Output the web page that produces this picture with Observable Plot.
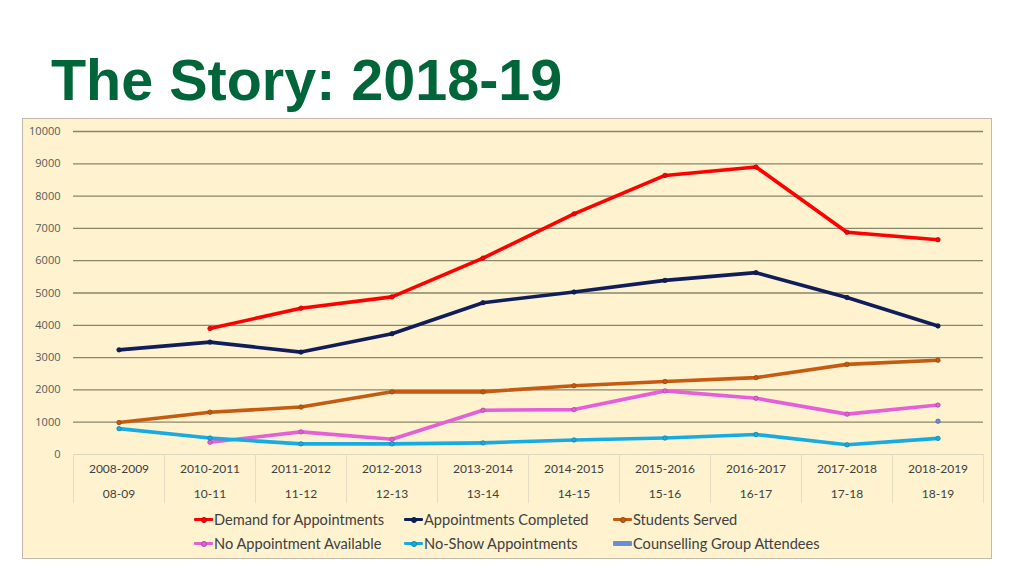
<!DOCTYPE html>
<html>
<head>
<meta charset="utf-8">
<script src="https://cdn.jsdelivr.net/npm/d3@7"></script>
<script src="https://cdn.jsdelivr.net/npm/@observablehq/plot@0.6"></script>
<style>
  html, body { margin: 0; padding: 0; background: #ffffff; width: 1024px; height: 576px; overflow: hidden; }
  #title { position: absolute; left: 51px; top: 47px; font-family: "Liberation Sans", Arial, sans-serif; font-weight: bold; font-size: 57.5px; color: #006639; white-space: nowrap; }
  #panel { position: absolute; left: 22px; top: 118px; width: 968px; height: 439px; background: #FEF2CF; border: 1px solid #C2BBAA; }
  #chart { position: absolute; left: 0; top: 0; }
  .legend-item { position: absolute; display: flex; align-items: center; font-family: Lato, "Open Sans", sans-serif; font-size: 14.6px; color: #404040; white-space: nowrap; height: 20px; }
  .sw { position: relative; width: 19px; height: 20px; margin-right: 1px; }
  .sw .ln { position: absolute; left: 0; top: 8.5px; width: 19px; height: 3px; border-radius: 1px; }
  .sw .dt { position: absolute; left: 7px; top: 7.5px; width: 5px; height: 5px; border-radius: 50%; }
</style>
</head>
<body>
<div id="title">The Story: 2018-19</div>
<div id="panel"><div id="chart"></div><div id="legend"></div></div>
<script>
const categories = ["2008-2009","2010-2011","2011-2012","2012-2013","2013-2014","2014-2015","2015-2016","2016-2017","2017-2018","2018-2019"];
const shortLabels = ["08-09","10-11","11-12","12-13","13-14","14-15","15-16","16-17","17-18","18-19"];
const seriesNames = ["Demand for Appointments","Appointments Completed","Students Served","No Appointment Available","No-Show Appointments","Counselling Group Attendees"];
const seriesColors = ["#FF0000","#0F1E5A","#C55A11","#E45FD8","#17ABE3","#6A8ED4"];
const demand      = [null,3900,4530,4880,6080,7450,8640,8900,6880,6650];
const completed   = [3240,3480,3170,3740,4700,5030,5390,5630,4860,3980];
const served      = [990,1310,1470,1940,1940,2130,2260,2380,2790,2920];
const noAppt      = [null,380,700,470,1370,1390,1970,1740,1250,1530];
const noShow      = [800,510,330,330,360,450,510,620,300,500];
const counselling = [null,null,null,null,null,null,null,null,null,1030];
const yTicks = [0,1000,2000,3000,4000,5000,6000,7000,8000,9000,10000];

const seriesValues = [demand, completed, served, noAppt, noShow, counselling];
const rows = [];
seriesValues.forEach((vals, s) => vals.forEach((v, i) => {
  if (v != null) rows.push({series: seriesNames[s], cat: categories[i], value: v});
}));
const shortOf = new Map(categories.map((c, i) => [c, shortLabels[i]]));

const W = 968, H = 390, mL = 50, mR = 8, mT = 12, mB = 55;
const bw = (W - mL - mR) / categories.length;

const marks = [
  Plot.ruleY(yTicks.filter(d => d > 0), {y: d => d, stroke: "#8A866A", strokeWidth: 1.3}),
  Plot.ruleY([0], {stroke: "#DCD5BF", strokeWidth: 1}),
  Plot.ruleX(categories, {x: d => d, dx: -bw / 2, y1: 0, y2: -1520, stroke: "#E4DCC4", strokeWidth: 1}),
  Plot.ruleX(categories.slice(-1), {x: d => d, dx: bw / 2, y1: 0, y2: -1520, stroke: "#E4DCC4", strokeWidth: 1}),
  Plot.axisY({ticks: yTicks, tickSize: 0, tickPadding: 13, tickFormat: d => String(d), fontSize: 11, fill: "#595959", label: null}),
  Plot.axisX({tickSize: 0, tickPadding: 10, tickFormat: d => d, fontSize: 12, fill: "#404040", fontFamily: "Lato, 'Open Sans', sans-serif", label: null}),
  Plot.axisX({tickSize: 0, tickPadding: 35, tickFormat: d => shortOf.get(d), fontSize: 12, fill: "#404040", fontFamily: "Lato, 'Open Sans', sans-serif", label: null})
];
seriesNames.forEach((name, s) => {
  const data = rows.filter(r => r.series === name);
  if (data.length > 1) {
    marks.push(Plot.line(data, {x: "cat", y: "value", stroke: seriesColors[s], strokeWidth: 3.6, strokeLinejoin: "round", strokeLinecap: "round"}));
  }
  marks.push(Plot.dot(data, {x: "cat", y: "value", r: 2.2, fill: seriesColors[s], stroke: d3.color(seriesColors[s]).darker(0.8).formatHex(), strokeWidth: 0.8}));
});

const chart = Plot.plot({
  width: W, height: H,
  marginLeft: mL, marginRight: mR, marginTop: mT, marginBottom: mB,
  style: {background: "transparent", fontFamily: "'Open Sans', sans-serif", overflow: "visible"},
  x: {type: "band", domain: categories, padding: 0, axis: null, label: null},
  y: {domain: [0, 10000], axis: null, label: null},
  marks
});
document.getElementById("chart").appendChild(chart);

const legend = document.getElementById("legend");
const colLeft = [171, 381, 590];
const rowTop = [390, 414];
seriesNames.forEach((name, s) => {
  const item = document.createElement("div");
  item.className = "legend-item";
  item.style.left = colLeft[s % 3] + "px";
  item.style.top = rowTop[Math.floor(s / 3)] + "px";
  const sw = document.createElement("div");
  sw.className = "sw";
  const ln = document.createElement("div");
  ln.className = "ln";
  ln.style.background = seriesColors[s];
  if (s === 5) { ln.style.height = "5px"; ln.style.top = "7.5px"; }
  sw.appendChild(ln);
  if (s !== 5) {
    const dt = document.createElement("div");
    dt.className = "dt";
    dt.style.background = seriesColors[s];
    dt.style.border = "0.8px solid " + d3.color(seriesColors[s]).darker(0.8).formatHex();
    dt.style.width = "4px"; dt.style.height = "4px";
    sw.appendChild(dt);
  }
  item.appendChild(sw);
  const t = document.createElement("span");
  t.textContent = name;
  item.appendChild(t);
  legend.appendChild(item);
});
</script>
</body>
</html>
